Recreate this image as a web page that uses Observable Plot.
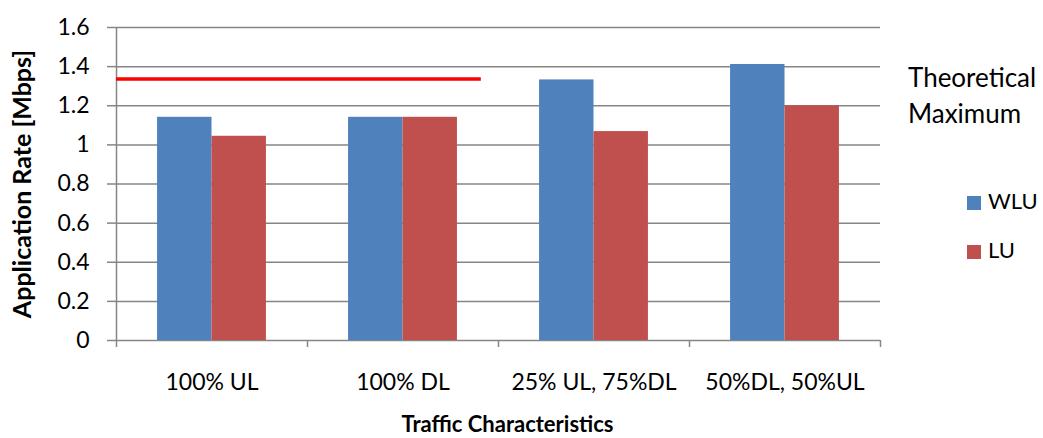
<!DOCTYPE html>
<html><head><meta charset="utf-8">
<script src="https://cdn.jsdelivr.net/npm/d3@7"></script>
<script src="https://cdn.jsdelivr.net/npm/@observablehq/plot@0.6"></script>
<style>
body{margin:0;background:#fff;}
#wrap{position:relative;width:1043px;height:438px;font-family:Lato,sans-serif;overflow:hidden;}
#wrap svg{display:block;}
.leg{position:absolute;color:#000;white-space:nowrap;}
.sw{position:absolute;width:14px;height:14px;}
</style></head><body><div id="wrap"></div>
<script>
const categories = ["100% UL", "100% DL", "25% UL, 75%DL", "50%DL, 50%UL"];
const wlu = [1.141, 1.141, 1.332, 1.411];
const lu = [1.044, 1.141, 1.068, 1.200];
const seriesNames = ["WLU", "LU"];
const seriesColors = ["#4F81BD", "#C0504D"];
const theoreticalMax = 1.337;
const theoreticalSpan = [0, 1.91]; // extent in category units
const yTicks = [0, 0.2, 0.4, 0.6, 0.8, 1, 1.2, 1.4, 1.6];
const yTickLabels = ["0", "0.2", "0.4", "0.6", "0.8", "1", "1.2", "1.4", "1.6"];
const xTitle = "Traffic Characteristics";
const yTitle = "Application Rate [Mbps]";
const maxLabel = ["Theoretical", "Maximum"];

const barW = 0.285;
const bars = [];
categories.forEach((c, i) => {
  bars.push({cat: c, series: seriesNames[0], x1: i + 0.5 - barW, x2: i + 0.5, v: wlu[i]});
  bars.push({cat: c, series: seriesNames[1], x1: i + 0.5, x2: i + 0.5 + barW, v: lu[i]});
});
const boundaries = d3.range(categories.length + 1);
const centers = categories.map((c, i) => i + 0.5);
const gray = "#868686";

const chart = Plot.plot({
  width: 1043, height: 438,
  marginLeft: 116, marginRight: 163, marginTop: 27, marginBottom: 98,
  style: {fontFamily: "Lato, sans-serif", fontSize: "23px", color: "#000", background: "#fff", overflow: "visible"},
  x: {domain: [0, categories.length]},
  y: {domain: [0, 1.6]},
  color: {domain: seriesNames, range: seriesColors},
  marks: [
    Plot.gridY(yTicks, {stroke: gray, strokeOpacity: 1, strokeWidth: 1.5}),
    Plot.axisY({ticks: yTicks, tickSize: 9, tickPadding: 18, stroke: gray, strokeWidth: 1.5, fill: "#000",
      tickFormat: d => yTickLabels[yTicks.indexOf(d)], label: null, fontSize: 23}),
    Plot.rect(bars, {x1: "x1", x2: "x2", y1: 0, y2: "v", fill: "series"}),
    Plot.ruleX([0], {y1: 0, y2: 1.6, stroke: gray, strokeWidth: 1.5}),
    Plot.axisX({ticks: boundaries, tickSize: 7, stroke: gray, strokeWidth: 1.5, tickFormat: () => "", label: null}),
    Plot.axisX({ticks: centers, tickSize: 0, tickPadding: 33, fill: "#000",
      tickFormat: d => categories[Math.round(d - 0.5)], label: null, fontSize: 23}),
    Plot.ruleY([theoreticalMax], {x1: theoreticalSpan[0], x2: theoreticalSpan[1], stroke: "#FF0000", strokeWidth: 3.5}),
    Plot.text([xTitle], {frameAnchor: "bottom", dy: 91, dx: 9, lineAnchor: "bottom", textAnchor: "middle",
      fontWeight: "bold", fontSize: 22, fill: "#000"}),
    Plot.text([yTitle], {frameAnchor: "left", dx: -94, rotate: -90, textAnchor: "middle", lineAnchor: "middle",
      fontWeight: "bold", fontSize: 25, fill: "#000"})
  ]
});
const wrap = document.getElementById("wrap");
wrap.appendChild(chart);

const t = document.createElement("div");
t.className = "leg";
t.style.cssText = "left:908px;top:59px;font-size:26px;line-height:36px;";
t.innerHTML = maxLabel.join("<br>");
wrap.appendChild(t);

const legTops = [191, 240];
seriesNames.forEach((s, i) => {
  const sw = document.createElement("div");
  sw.className = "sw";
  sw.style.cssText = `left:967px;top:${legTops[i] + 5}px;background:${seriesColors[i]};`;
  wrap.appendChild(sw);
  const l = document.createElement("div");
  l.className = "leg";
  l.style.cssText = `left:988px;top:${legTops[i] - 1}px;font-size:22px;line-height:22px;`;
  l.textContent = s;
  wrap.appendChild(l);
});
</script></body></html>
